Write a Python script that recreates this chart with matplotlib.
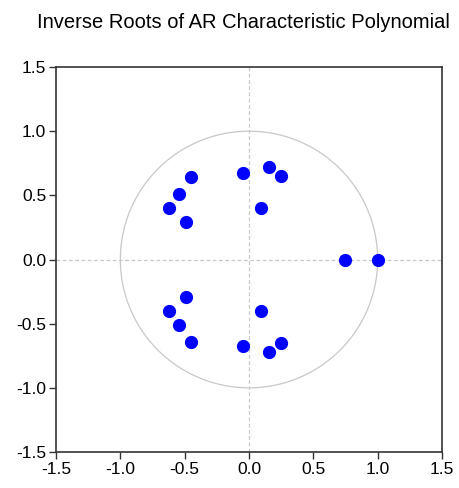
import numpy as np
import matplotlib
matplotlib.use("Agg")
import matplotlib.pyplot as plt

plt.rcParams['font.family'] = ['Liberation Sans', 'DejaVu Sans']
plt.rcParams['axes.unicode_minus'] = False

# inverse roots, upper half (the rest are conjugates)
re_upper = [-0.453, -0.544, -0.619, -0.487, -0.047, 0.153, 0.249, 0.096]
im_upper = [0.640, 0.510, 0.398, 0.290, 0.675, 0.720, 0.652, 0.398]
re_real = [0.75, 1.0]
im_real = [0.0, 0.0]

re_all = re_upper + re_upper + re_real
im_all = im_upper + [-v for v in im_upper] + im_real

ticks = [-1.5, -1.0, -0.5, 0.0, 0.5, 1.0, 1.5]

fig = plt.figure(figsize=(4.6, 4.88), dpi=100)
ax = fig.add_axes([56 / 460, 36 / 488, 386 / 460, 385 / 488])

t = np.linspace(0, 2 * np.pi, 400)
ax.plot(np.cos(t), np.sin(t), color='#c8c8c8', lw=0.9, zorder=1)
ax.axhline(0, color='#c8c8c8', lw=0.9, ls=(0, (3, 2)), zorder=1)
ax.axvline(0, color='#c8c8c8', lw=0.9, ls=(0, (3, 2)), zorder=1)

ax.plot(re_all, im_all, 'o', color='#0000ff', ms=8.5, mec='#0000ff', zorder=3)

ax.set_xlim(-1.5, 1.5)
ax.set_ylim(-1.5, 1.5)
ax.set_xticks(ticks)
ax.set_yticks(ticks)
ax.set_xticklabels([f"{v:.1f}" for v in ticks])
ax.set_yticklabels([f"{v:.1f}" for v in ticks])
ax.tick_params(direction='out', length=5, width=1, labelsize=12.5, color='#333333',
               pad=2)
for s in ax.spines.values():
    s.set_color('#333333')
    s.set_linewidth(1.2)

fig.text(37 / 460, 1 - 22 / 488, "Inverse Roots of AR Characteristic Polynomial",
         ha='left', va='center', fontsize=14.5)

fig.savefig("out.png", dpi=100)
